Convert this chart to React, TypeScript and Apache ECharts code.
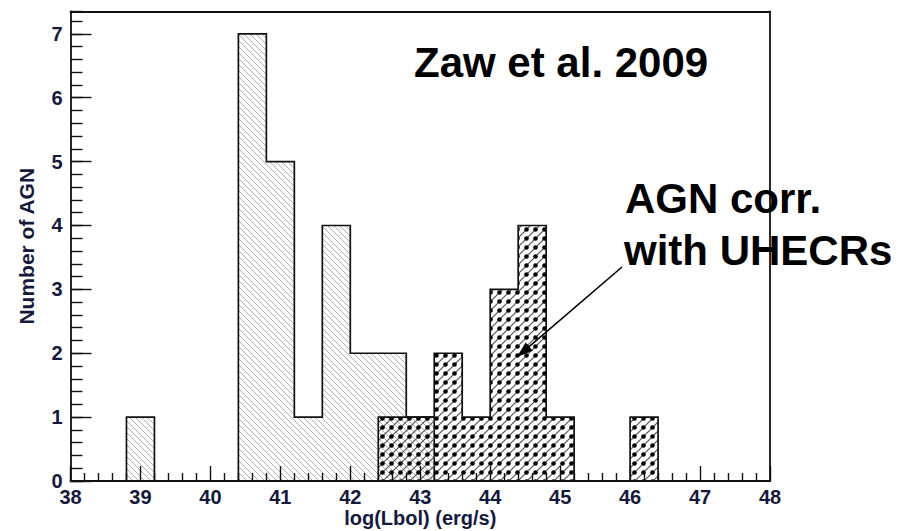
import React, { useEffect, useRef } from 'react';
import * as echarts from 'echarts';

// Histogram binning (log L_bol, erg/s)
const binWidth = 0.4;
const xMin = 38;
const xMax = 48;
const yMax = 7.35;

// All AGN (hatched histogram): lower bin edges and counts
const allBinStarts = [38.8, 40.4, 40.8, 41.2, 41.6, 42.0, 42.4, 42.8];
const allCounts = [1, 7, 5, 1, 4, 2, 2, 1];

// AGN correlated with UHECRs (dotted histogram)
const corrBinStarts = [42.4, 42.8, 43.2, 43.6, 44.0, 44.4, 44.8, 46.0];
const corrCounts = [1, 1, 2, 1, 3, 4, 1, 1];

const xTitle = 'log(Lbol) (erg/s)';
const yTitle = 'Number of AGN';
const refLabel = 'Zaw et al. 2009';
const corrLabelLines = ['AGN corr.', 'with UHECRs'];

const FONT = "'Liberation Sans', Arial, Helvetica, sans-serif";
const LABEL_COLOR = '#151a3c';
const INK = '#111111';

type Pt = [number, number];

// Turns bins into closed step outlines, one per run of adjacent bins
function buildRuns(starts: number[], counts: number[]): Pt[][] {
  const runs: Pt[][] = [];
  let cur: Pt[] | null = null;
  let lastEnd = -Infinity;
  starts.forEach((s, i) => {
    const c = counts[i];
    if (!cur || Math.abs(s - lastEnd) > 1e-6) {
      if (cur) {
        cur.push([lastEnd, 0]);
        runs.push(cur);
      }
      cur = [[s, 0]];
    }
    cur.push([s, c]);
    cur.push([+(s + binWidth).toFixed(6), c]);
    lastEnd = +(s + binWidth).toFixed(6);
  });
  if (cur) {
    (cur as Pt[]).push([lastEnd, 0]);
    runs.push(cur);
  }
  return runs;
}

function svgUrl(body: string, w: number, h: number) {
  const svg = `<svg xmlns='http://www.w3.org/2000/svg' width='${w}' height='${h}'>${body}</svg>`;
  return 'data:image/svg+xml;charset=utf-8,' + encodeURIComponent(svg);
}

// "\\" hatching
const hatchTile = 6;
const hatchPattern = {
  image: svgUrl(
    `<path d='M-7,-1 L1,7 M-1,-1 L7,7 M5,-1 L13,7' stroke='#a6a6a6' stroke-width='0.9' fill='none'/>`,
    hatchTile,
    hatchTile
  ),
  repeat: 'repeat',
  imageWidth: hatchTile,
  imageHeight: hatchTile,
};

// dots sitting on "/" hatching
const dotTile = 9;
const dotPattern = {
  image: svgUrl(
    `<path d='M-10,10 L1,-1 M-1,10 L10,-1 M8,10 L19,-1' stroke='#555' stroke-width='1.2' fill='none'/>` +
      `<circle cx='4.5' cy='4.5' r='2.3' fill='#000'/>`,
    dotTile,
    dotTile
  ),
  repeat: 'repeat',
  imageWidth: dotTile,
  imageHeight: dotTile,
};

function histSeries(starts: number[], counts: number[], fill: any) {
  const runs = buildRuns(starts, counts);
  return {
    type: 'custom',
    xAxisIndex: 0,
    yAxisIndex: 0,
    coordinateSystem: 'cartesian2d',
    data: runs.map((r) => [r[0][0], r[r.length - 1][0], Math.max(...r.map((p) => p[1]))]),
    encode: { x: [0, 1], y: 2 },
    renderItem: (params: any, api: any) => {
      const pts = runs[params.dataIndex].map((p) => api.coord(p));
      return {
        type: 'group',
        children: [
          { type: 'polygon', shape: { points: pts }, style: { fill, stroke: null } },
          {
            type: 'polyline',
            shape: { points: pts },
            style: { fill: null, stroke: INK, lineWidth: 1.7 },
          },
        ],
      };
    },
  };
}

export default function App() {
  const ref = useRef<HTMLDivElement>(null);

  useEffect(() => {
    document.body.style.margin = '0';
    if (!ref.current) return;
    const chart = echarts.init(ref.current, null, { renderer: 'svg' });

    const grid = { left: 70.5, right: 131, top: 11.5, bottom: 50 };

    // arrow geometry
    const tail = [622, 267];
    const tip = [517, 357];
    const dx = tip[0] - tail[0];
    const dy = tip[1] - tail[1];
    const len = Math.hypot(dx, dy);
    const ux = dx / len;
    const uy = dy / len;
    const headLen = 16;
    const headHalf = 5.5;
    const bx = tip[0] - ux * headLen;
    const by = tip[1] - uy * headLen;

    const labelStyle = {
      color: LABEL_COLOR,
      fontFamily: FONT,
      fontWeight: 'bold' as const,
      fontSize: 20,
    };

    chart.setOption({
      animation: false,
      backgroundColor: '#ffffff',
      grid: { ...grid, containLabel: false, outerBoundsMode: 'none', show: false },
      xAxis: [
        {
          type: 'value',
          min: xMin,
          max: xMax,
          interval: 1,
          position: 'bottom',
          z: 5,
          axisLine: { show: true, onZero: false, lineStyle: { color: INK, width: 1.8 } },
          axisTick: { show: true, inside: true, length: 15, lineStyle: { color: INK, width: 1.4 } },
          minorTick: { show: true, splitNumber: 5, length: 8, lineStyle: { color: INK, width: 1.4 } },
          splitLine: { show: false },
          minorSplitLine: { show: false },
          axisLabel: { ...labelStyle, margin: 6 },
        },
        {
          type: 'value',
          min: xMin,
          max: xMax,
          position: 'top',
          z: 5,
          axisLine: { show: true, onZero: false, lineStyle: { color: INK, width: 1.8 } },
          axisTick: { show: false },
          axisLabel: { show: false },
          splitLine: { show: false },
        },
      ],
      yAxis: [
        {
          type: 'value',
          min: 0,
          max: yMax,
          interval: 1,
          position: 'left',
          z: 5,
          axisLine: { show: true, onZero: false, lineStyle: { color: INK, width: 1.8 } },
          axisTick: { show: true, inside: true, length: 21, lineStyle: { color: INK, width: 1.4 } },
          splitLine: { show: false },
          axisLabel: { ...labelStyle, margin: 8, showMaxLabel: false },
          name: yTitle,
          nameLocation: 'middle',
          nameGap: 34,
          nameRotate: 90,
          nameTextStyle: { ...labelStyle, fontSize: 21 },
        },
        {
          type: 'value',
          min: 0,
          max: yMax,
          interval: 0.2,
          position: 'left',
          z: 5,
          axisLine: { show: false },
          axisTick: { show: true, inside: true, length: 12, lineStyle: { color: INK, width: 1.4 } },
          axisLabel: { show: false },
          splitLine: { show: false },
        },
        {
          type: 'value',
          min: 0,
          max: yMax,
          position: 'right',
          z: 5,
          axisLine: { show: true, onZero: false, lineStyle: { color: INK, width: 1.8 } },
          axisTick: { show: false },
          axisLabel: { show: false },
          splitLine: { show: false },
        },
      ],
      series: [
        histSeries(allBinStarts, allCounts, hatchPattern),
        histSeries(corrBinStarts, corrCounts, dotPattern),
      ],
      graphic: [
        {
          // x-axis title, centred under the plot area
          type: 'text',
          x: 70.5 + (901 - 131 - 70.5) / 2,
          y: 518,
          z: 10,
          style: {
            text: xTitle,
            font: `bold 20px ${FONT}`,
            fill: LABEL_COLOR,
            verticalAlign: 'middle',
            align: 'center',
          },
        },
        {
          type: 'text',
          x: 414,
          y: 62.5,
          z: 10,
          style: {
            text: refLabel,
            font: `bold 42px ${FONT}`,
            fill: '#000',
            verticalAlign: 'middle',
            align: 'left',
          },
        },
        {
          type: 'text',
          x: 625,
          y: 198.5,
          z: 10,
          style: {
            text: corrLabelLines[0],
            font: `bold 42px ${FONT}`,
            fill: '#000',
            verticalAlign: 'middle',
            align: 'left',
          },
        },
        {
          type: 'text',
          x: 624,
          y: 250,
          z: 10,
          style: {
            text: corrLabelLines[1],
            font: `bold 42px ${FONT}`,
            fill: '#000',
            verticalAlign: 'middle',
            align: 'left',
          },
        },
        {
          type: 'line',
          z: 10,
          shape: { x1: tail[0], y1: tail[1], x2: bx, y2: by },
          style: { stroke: '#000', lineWidth: 1.6 },
        },
        {
          type: 'polygon',
          z: 10,
          shape: {
            points: [
              [tip[0], tip[1]],
              [bx + uy * headHalf, by - ux * headHalf],
              [bx - uy * headHalf, by + ux * headHalf],
            ],
          },
          style: { fill: '#000' },
        },
      ],
    });

    return () => chart.dispose();
  }, []);

  return <div ref={ref} style={{ width: 901, height: 531 }} />;
}
